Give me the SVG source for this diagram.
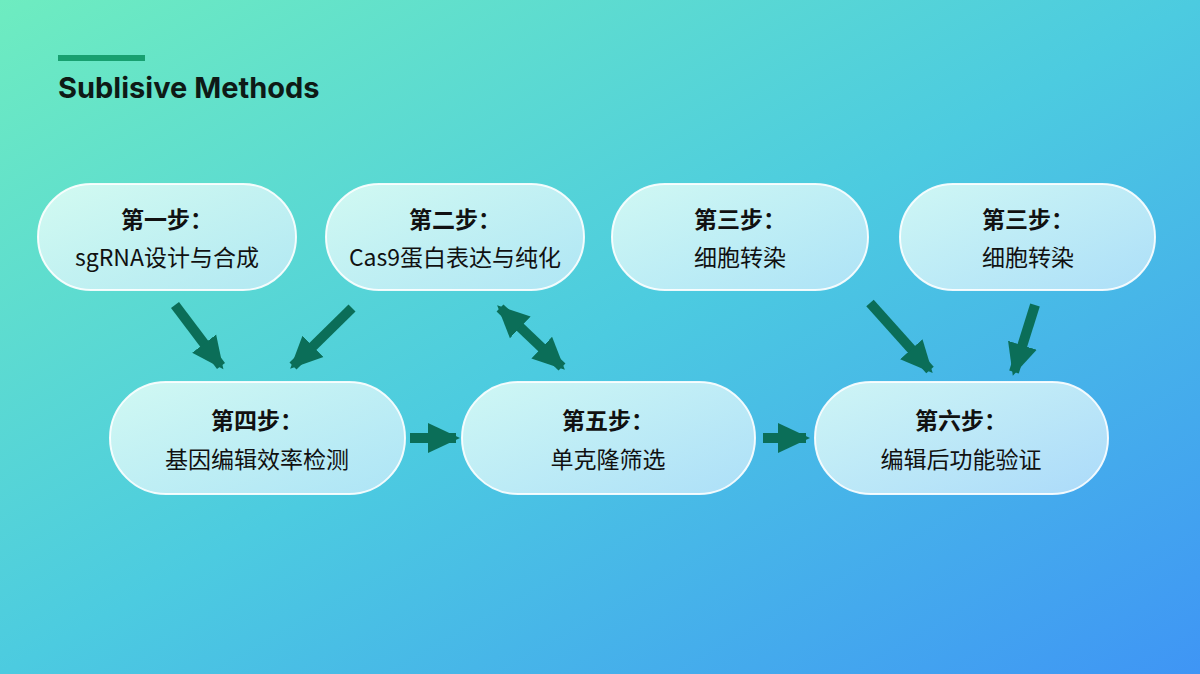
<svg xmlns="http://www.w3.org/2000/svg" width="1200" height="674" viewBox="0 0 1200 674">
<defs>
<linearGradient id="bg" x1="0" y1="0" x2="1" y2="1">
<stop offset="0" stop-color="#6eecc0"/>
<stop offset="0.5" stop-color="#4ccbe0"/>
<stop offset="1" stop-color="#3f95f5"/>
</linearGradient>
<linearGradient id="nf" x1="0" y1="0" x2="1" y2="1">
<stop offset="0" stop-color="#e6fff8" stop-opacity="0.85"/>
<stop offset="1" stop-color="#d8f0ff" stop-opacity="0.7"/>
</linearGradient>
<marker id="ah" markerUnits="userSpaceOnUse" markerWidth="36" markerHeight="36" viewBox="0 0 36 36" refX="28" refY="18" orient="auto-start-reverse">
<path d="M0,3 L32,18 L0,33 Z" fill="#0b6e58"/>
</marker>
<style>
.node rect{fill:url(#nf);stroke:#ffffff;stroke-opacity:0.9;stroke-width:2}
.t1{font-family:"Noto Sans CJK SC","Noto Sans",sans-serif;font-weight:700;font-size:23px;fill:#111;text-anchor:middle}
.t2{font-family:"Noto Sans CJK SC","Noto Sans",sans-serif;font-size:23px;fill:#111;text-anchor:middle}
.c line{stroke:#0b6e58;stroke-width:10;marker-end:url(#ah)}
</style>
</defs>
<rect width="1200" height="674" fill="url(#bg)"/>
<rect x="58" y="55" width="87" height="6" fill="#18a070"/>
<text x="58" y="98" font-family="Inter,'Noto Sans',sans-serif" font-weight="700" font-size="29" fill="#0e1a16">Sublisive Methods</text>
<g id="n1" class="node"><rect x="38" y="184" width="258" height="106" rx="53"/><text class="t1" x="167" y="228">第一步：</text><text class="t2" x="167" y="266">sgRNA设计与合成</text></g>
<g id="n2" class="node"><rect x="326" y="184" width="258" height="106" rx="53"/><text class="t1" x="455" y="228">第二步：</text><text class="t2" x="455" y="266">Cas9蛋白表达与纯化</text></g>
<g id="n3" class="node"><rect x="612" y="184" width="256" height="106" rx="53"/><text class="t1" x="740" y="228">第三步：</text><text class="t2" x="740" y="266">细胞转染</text></g>
<g id="n4" class="node"><rect x="900" y="184" width="255" height="106" rx="53"/><text class="t1" x="1028" y="228">第三步：</text><text class="t2" x="1028" y="266">细胞转染</text></g>
<g id="n5" class="node"><rect x="110" y="382" width="295" height="112" rx="56"/><text class="t1" x="257" y="429">第四步：</text><text class="t2" x="257" y="468">基因编辑效率检测</text></g>
<g id="n6" class="node"><rect x="462" y="382" width="293" height="112" rx="56"/><text class="t1" x="608" y="429">第五步：</text><text class="t2" x="608" y="468">单克隆筛选</text></g>
<g id="n7" class="node"><rect x="815" y="382" width="293" height="112" rx="56"/><text class="t1" x="961" y="429">第六步：</text><text class="t2" x="961" y="468">编辑后功能验证</text></g>
<g id="connectors" class="c">
<line x1="175" y1="305" x2="221" y2="366"/>
<line x1="352" y1="308" x2="293" y2="366"/>
<line x1="500" y1="308" x2="562" y2="367" style="marker-start:url(#ah)"/>
<line x1="410" y1="438" x2="456" y2="438"/>
<line x1="763" y1="438" x2="806" y2="438"/>
<line x1="870" y1="303" x2="930" y2="370"/>
<line x1="1035" y1="305" x2="1014" y2="372"/>
</g>
</svg>
